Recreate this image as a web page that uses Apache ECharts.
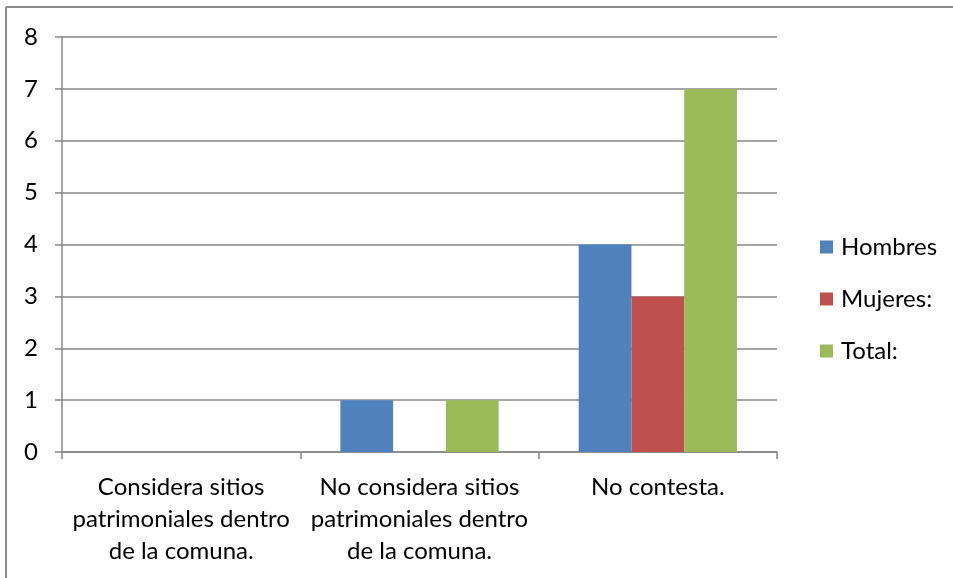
<!DOCTYPE html>
<html><head><meta charset="utf-8">
<script src="https://cdn.jsdelivr.net/npm/echarts@6/dist/echarts.min.js"></script>
<style>html,body{margin:0;padding:0;background:#fff}#c{width:953px;height:578px}</style>
</head><body><div id="c"></div>
<script>
const categories = ["Considera sitios\npatrimoniales dentro\nde la comuna.", "No considera sitios\npatrimoniales dentro\nde la comuna.", "No contesta."];
const seriesNames = ["Hombres", "Mujeres:", "Total:"];
const hombres = [0, 1, 4];
const mujeres = [0, 0, 3];
const total = [0, 1, 7];
const yTicks = {min: 0, max: 8, interval: 1};

const colors = ["#4F81BD", "#C0504D", "#9BBB59"];
const font = "Lato, 'Open Sans', sans-serif";
const lineCol = "#878787";
const chart = echarts.init(document.getElementById('c'), null, {renderer: 'canvas'});
const values = [hombres, mujeres, total];
chart.setOption({
  animation: false,
  color: colors,
  grid: {left: 62, right: 176, top: 37, bottom: 126},
  legend: {
    orient: 'vertical', left: 815, top: 230,
    itemWidth: 13, itemHeight: 13, itemGap: 28, icon: 'rect',
    textStyle: {fontFamily: font, fontSize: 24, color: '#000', padding: [0,0,0,3]},
    data: seriesNames
  },
  xAxis: {
    type: 'category', data: categories,
    axisLine: {lineStyle: {color: lineCol, width: 1.5}},
    axisTick: {show: true, length: 7, lineStyle: {color: lineCol, width: 1.5}},
    axisLabel: {interval: 0, margin: 19, fontFamily: font, fontSize: 24, color: '#000', lineHeight: 32}
  },
  yAxis: {
    type: 'value', min: yTicks.min, max: yTicks.max, interval: yTicks.interval,
    axisLine: {show: true, lineStyle: {color: lineCol, width: 1.5}},
    axisTick: {show: true, length: 7, lineStyle: {color: lineCol, width: 1.5}},
    splitLine: {lineStyle: {color: lineCol, width: 1.5}},
    axisLabel: {margin: 24, fontFamily: font, fontSize: 24, color: '#000'}
  },
  series: seriesNames.map((n, i) => ({
    name: n, type: 'bar', data: values[i],
    barGap: '0%', barCategoryGap: '33.6%'
  })),
  graphic: [
    {type: 'line', shape: {x1: 6, y1: 7, x2: 953, y2: 7}, style: {stroke: '#8a8a8a', lineWidth: 2}},
    {type: 'line', shape: {x1: 6, y1: 7, x2: 6, y2: 578}, style: {stroke: '#8a8a8a', lineWidth: 2}}
  ]
});
</script></body></html>
